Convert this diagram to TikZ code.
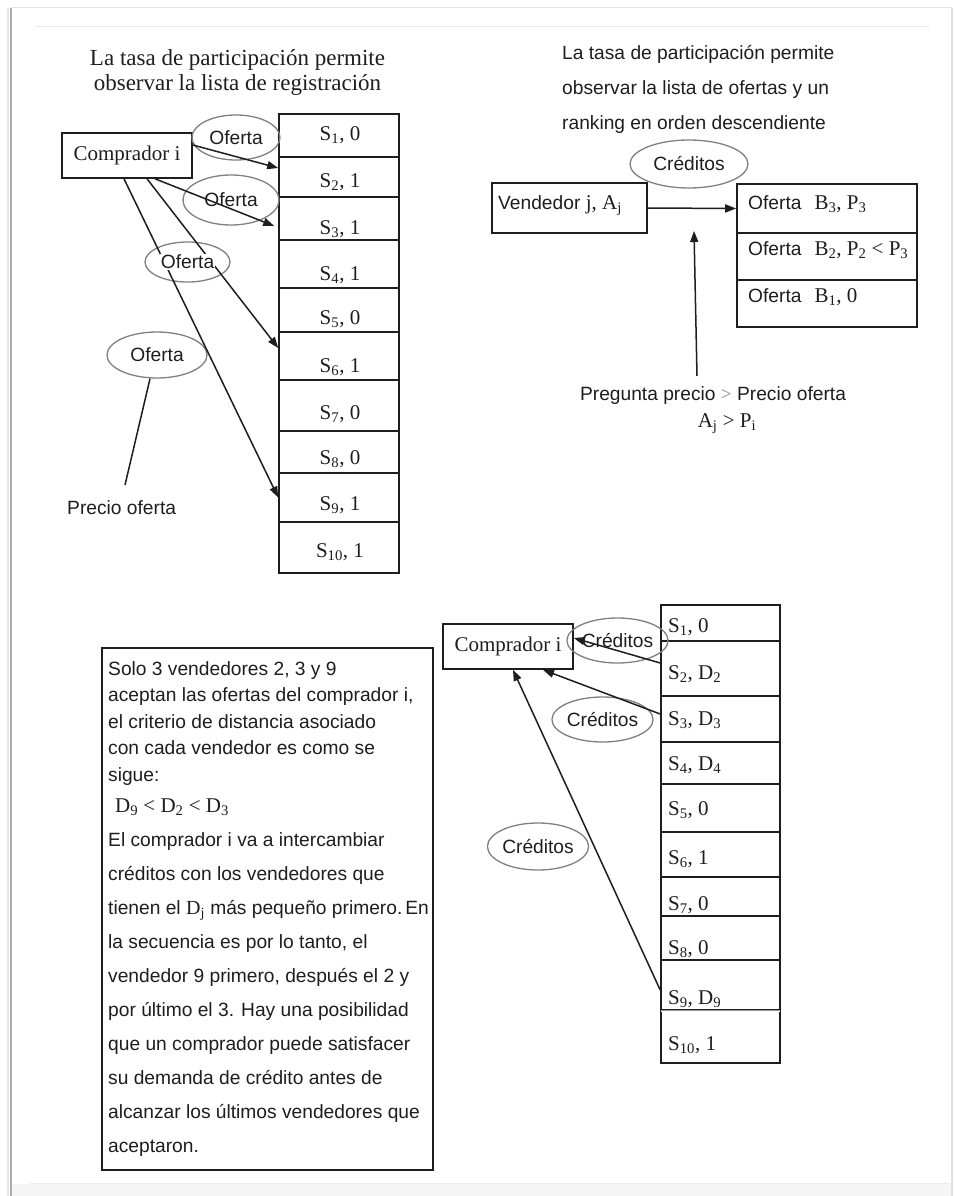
\documentclass[tikz,border=0pt]{standalone}
\usepackage{fontspec}
\setmainfont{Liberation Serif}
\newfontfamily\arialfam{Liberation Sans}
\usetikzlibrary{arrows.meta,shapes.geometric}
\definecolor{ink}{HTML}{1E1E1E}
\begin{document}
\begin{tikzpicture}[x=1pt,y=-1pt,
  sans/.style={font=\arialfam\fontsize{19.2}{23}\selectfont, text=ink, inner sep=0pt},
  ser/.style={font=\fontsize{21}{25}\selectfont, text=ink, inner sep=0pt},
  ttl/.style={font=\fontsize{23}{27}\selectfont, text=ink, inner sep=0pt},
  cell/.style={rectangle, draw=ink, line width=1.6pt, inner sep=0pt},
  bub/.style={ellipse, draw=black!50, line width=1.3pt, inner sep=0pt,
    font=\arialfam\fontsize{19.2}{23}\selectfont, text=ink},
  con/.style={draw=ink, line width=1.5pt},
  arr/.style={con, -{Triangle[length=11pt,width=8pt]}},
]
\useasboundingbox (0,0) rectangle (954,1196);

% page sheet with its soft edges
\fill[white] (0,0) rectangle (954,1196);
\draw[black!10, line width=2pt] (8,8) -- (8,1196);
\draw[black!32, line width=2pt] (11,8) -- (11,1196);
\draw[black!10, line width=1pt] (11,8) -- (952,8);
\draw[black!12, line width=1.5pt] (952,8) -- (952,1196);
\fill[black!4] (12,1184) rectangle (951,1196);
\draw[black!8, line width=1pt] (35,27) -- (930,27);
\draw[black!8, line width=1pt] (30,1183) -- (950,1183);

% ---------- registration list (top left) ----------
\node[ttl, anchor=base] (tl1) at (237.5,66) {La tasa de participación permite};
\node[ttl, anchor=base] (tl2) at (237.5,91) {observar la lista de registración};

\foreach \i/\t/\b/\c/\v in {1/114/157/133/0,2/157/197/180/1,3/197/240/227/1,
  4/240/288/273/1,5/288/332/317/0,6/332/380/365/1,7/380/431/412/0,
  8/431/473/457/0,9/473/522/503/1,10/522/573/550/1}{
  \node[cell, minimum width=120, minimum height={\b-\t}] (L\i) at (339,{(\t+\b)/2}) {};
  \node[ser, anchor=base] (Lt\i) at (340,\c+7) {S\textsubscript{\i}, \v};
}

\node[cell, ser, minimum width=130, minimum height=45] (C1) at (127,155.5) {Comprador i};

\node[bub, minimum width=88, minimum height=45] (o1) at (236,137.5) {Oferta};
\node[bub, minimum width=96, minimum height=50] (o2) at (231,200) {Oferta};
\node[bub, minimum width=85, minimum height=40] (o3) at (187.5,262) {};
\node[bub, minimum width=100, minimum height=46] (o4) at (157,355) {Oferta};

\node[sans, anchor=base west] (po) at (67,514) {Precio oferta};
\coordinate (pe) at (125,485);

\draw[arr] ([yshift=10.5pt]C1.east) -- ([yshift=9pt]L2.west);
\draw[arr] ([xshift=28pt]C1.south) -- ([xshift=-4pt,yshift=-7.5pt]L3.west);
\draw[arr] ([xshift=20pt]C1.south) -- ([yshift=8pt]L6.west);
\draw[arr] ([xshift=-3pt]C1.south) -- (L9.west);
\draw[con] ([xshift=-7pt]o4.south) -- (pe);

\node[sans, fill=white, inner sep=1pt] (o3t) at (o3) {Oferta};

% ---------- offer ranking (top right) ----------
\node[sans, anchor=base west] (tr1) at (562,60) {La tasa de participación permite};
\node[sans, anchor=base west] (tr2) at (562,95) {observar la lista de ofertas y un};
\node[sans, anchor=base west] (tr3) at (562,129) {ranking en orden descendiente};

\node[bub, minimum width=118, minimum height=48] (cr) at (689,164) {Créditos};

\node[cell, minimum width=155, minimum height=50] (V) at (569.5,208) {};
\node[sans, anchor=base west] (Vt) at (498,209)
  {Vendedor {\rmfamily\fontsize{21}{25}\selectfont j, A\textsubscript{j}}};

\foreach \i/\t/\b/\c/\v in {1/184/233/202/{B\textsubscript{3}, P\textsubscript{3}},
  2/233/280/248/{B\textsubscript{2}, P\textsubscript{2} < P\textsubscript{3}},
  3/280/327/295/{B\textsubscript{1}, 0}}{
  \node[cell, minimum width=180, minimum height={\b-\t}] (O\i) at (827,{(\t+\b)/2}) {};
  \node[sans, anchor=base west] (Ot\i) at (748,\c+7)
    {Oferta\hspace{13pt}{\rmfamily\fontsize{21}{25}\selectfont \v}};
}

\draw[arr] (V.east) -- (O1.west);

\node[sans, anchor=base] (pq) at (713,400)
  {Pregunta precio {\rmfamily\color{black!45}>} Precio oferta};
\node[ser, anchor=base] (aj) at (727,427) {A\textsubscript{j} > P\textsubscript{i}};
\coordinate (qs) at (697,376);
\coordinate (qe) at (694,231);
\draw[arr] (qs) -- (qe);

% ---------- credit exchange (bottom) ----------
\node[cell, ser, minimum width=130, minimum height=45] (C2) at (508,646.5) {Comprador i};

\foreach \i/\t/\b/\c/\v in {1/605/641/625/0,2/641/696/672/{D\textsubscript{2}},
  3/696/742/718/{D\textsubscript{3}},4/742/784/763/{D\textsubscript{4}},
  5/784/832/808/0,6/832/877/857/1,7/877/916/903/0,8/916/960/947/0,
  9/960/1010/997/{D\textsubscript{9}},10/1010/1063/1043/1}{
  \node[cell, minimum width=119, minimum height={\b-\t}] (R\i) at (720.5,{(\t+\b)/2}) {};
  \node[ser, anchor=base west] (Rt\i) at (668,\c+7) {S\textsubscript{\i}, \v};
}
\draw[white, line width=2pt] ([xshift=1pt]R9.south west) -- ([xshift=-1pt]R9.south east);
\draw[black!40, line width=1.3pt] ([xshift=1pt]R9.south west) -- ([xshift=-1pt]R9.south east);

\node[bub, minimum width=89, minimum height=45] (k1) at (617.5,640.5) {Créditos};
\node[bub, minimum width=89, minimum height=45] (k2) at (602.5,719.5) {Créditos};
\node[bub, minimum width=100, minimum height=47] (k3) at (538,846.5) {Créditos};

\draw[arr] ([yshift=5.5pt]R2.west) -- ([yshift=8.5pt]C2.east);
\draw[arr] ([yshift=5pt]R3.west) -- ([xshift=35pt]C2.south);
\draw[arr] ([yshift=-5pt]R9.west) -- ([xshift=5pt]C2.south);

\node[draw=ink, line width=1.6pt, minimum width=331, minimum height=522, inner sep=0pt]
  (tb) at (267.5,909) {};
\node[sans, anchor=base west] (p1) at (108,675) {Solo 3 vendedores 2, 3 y 9};
\node[sans, anchor=base west] (p2) at (108,701.5) {aceptan las ofertas del comprador i,};
\node[sans, anchor=base west] (p3) at (108,728) {el criterio de distancia asociado};
\node[sans, anchor=base west] (p4) at (108,754.5) {con cada vendedor es como se};
\node[sans, anchor=base west] (p5) at (108,781) {sigue:};
\node[ser, anchor=base west] (p6) at (115,812)
  {D\textsubscript{9} < D\textsubscript{2} < D\textsubscript{3}};
\node[sans, anchor=base west] (p7) at (108,846) {El comprador i va a intercambiar};
\node[sans, anchor=base west] (p8) at (108,880) {créditos con los vendedores que};
\node[sans, anchor=base west] (p9) at (108,914)
  {tienen el {\rmfamily\fontsize{20}{24}\selectfont D\textsubscript{j}} más pequeño primero.\hspace{3pt}En};
\node[sans, anchor=base west] (p10) at (108,948) {la secuencia es por lo tanto, el};
\node[sans, anchor=base west] (p11) at (108,982) {vendedor 9 primero, después el 2 y};
\node[sans, anchor=base west] (p12) at (108,1016) {por último el 3. Hay una posibilidad};
\node[sans, anchor=base west] (p13) at (108,1050) {que un comprador puede satisfacer};
\node[sans, anchor=base west] (p14) at (108,1084) {su demanda de crédito antes de};
\node[sans, anchor=base west] (p15) at (108,1118) {alcanzar los últimos vendedores que};
\node[sans, anchor=base west] (p16) at (108,1152) {aceptaron.};
\end{tikzpicture}
\end{document}
